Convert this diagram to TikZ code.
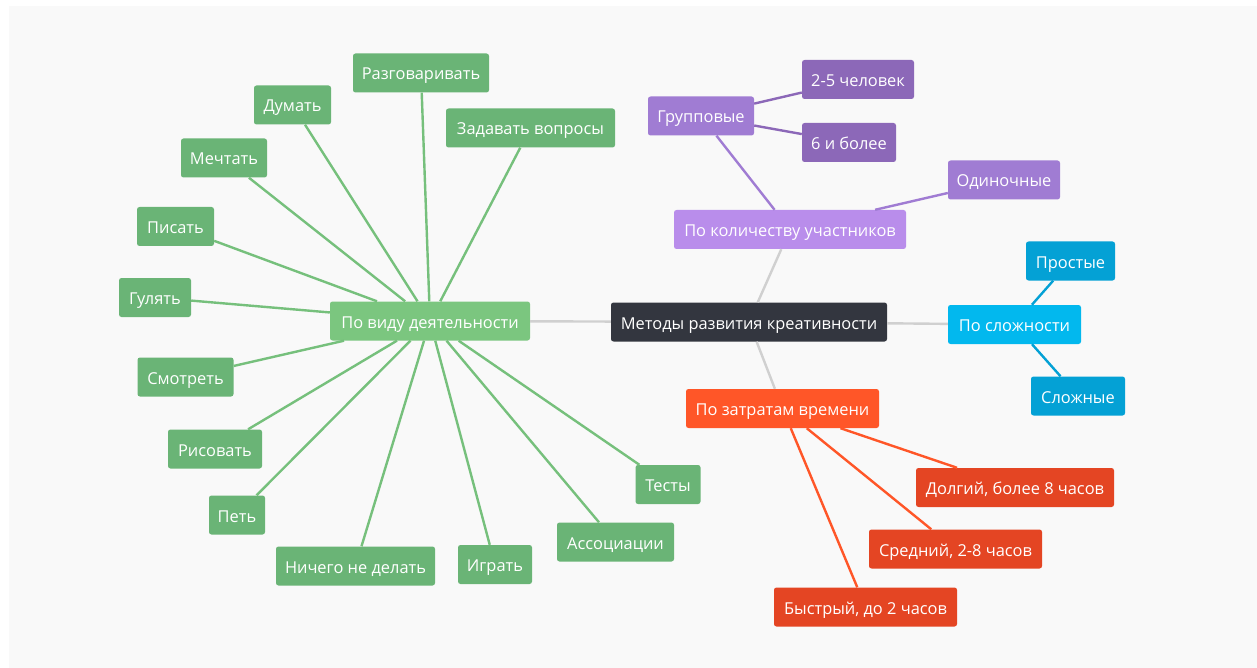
\documentclass[tikz,border=0pt]{standalone}
\usepackage{fontspec}
\setmainfont{Open Sans}
\usetikzlibrary{backgrounds}
\definecolor{bgc}{HTML}{F9F9F9}
\definecolor{dark}{HTML}{33363F}
\definecolor{gparent}{HTML}{7BC67F}
\definecolor{gchild}{HTML}{6AB476}
\definecolor{gline}{HTML}{76C07C}
\definecolor{pparent}{HTML}{B98DEB}
\definecolor{pmid}{HTML}{A07CD3}
\definecolor{pdark}{HTML}{8C68B8}
\definecolor{bparent}{HTML}{02B8EE}
\definecolor{bchild}{HTML}{04A1D5}
\definecolor{oparent}{HTML}{FF5628}
\definecolor{ochild}{HTML}{E44523}
\definecolor{grayline}{HTML}{D0D0D0}
\tikzset{
  box/.style={rectangle, rounded corners=2.5pt, text=white, inner sep=0pt,
    minimum height=39pt, text height=14pt, text depth=0pt,
    font=\fontsize{16.4}{19}\selectfont},
  conn/.style={line width=2.4pt},
}
\begin{document}
\begin{tikzpicture}[x=1pt,y=-1pt]
\useasboundingbox (0,0) rectangle (1257,668);
\fill[bgc] (9,6) rectangle (1257,668);

% centre
\node[box, fill=dark, minimum width=276pt] (root) at (749,322) {Методы развития креативности};

% activity branch
\node[box, fill=gparent, minimum width=200pt] (vid) at (430,321) {По виду деятельности};
\node[box, fill=gchild, minimum width=136pt] (razg) at (421,73) {Разговаривать};
\node[box, fill=gchild, minimum width=77pt] (dum) at (292.5,105) {Думать};
\node[box, fill=gchild, minimum width=169pt] (zad) at (530.5,128) {Задавать вопросы};
\node[box, fill=gchild, minimum width=86pt] (mech) at (224,158) {Мечтать};
\node[box, fill=gchild, minimum width=77pt] (pis) at (175.5,226.5) {Писать};
\node[box, fill=gchild, minimum width=72pt] (gul) at (155,297.5) {Гулять};
\node[box, fill=gchild, minimum width=96pt] (smo) at (185.5,377) {Смотреть};
\node[box, fill=gchild, minimum width=94pt] (ris) at (215,449) {Рисовать};
\node[box, fill=gchild, minimum width=56pt] (pet) at (237,515) {Петь};
\node[box, fill=gchild, minimum width=159pt] (nich) at (355.5,566) {Ничего не делать};
\node[box, fill=gchild, minimum width=74pt] (igr) at (495,564.5) {Играть};
\node[box, fill=gchild, minimum width=117pt] (asso) at (615.5,542) {Ассоциации};
\node[box, fill=gchild, minimum width=65pt] (test) at (668,484.5) {Тесты};

% participants branch
\node[box, fill=pparent, minimum width=232pt] (kol) at (790,229.5) {По количеству участников};
\node[box, fill=pmid, minimum width=106pt] (grup) at (701,116) {Групповые};
\node[box, fill=pdark, minimum width=112pt] (p25) at (858,79.5) {2-5 человек};
\node[box, fill=pdark, minimum width=94pt] (p6) at (849,142.5) {6 и более};
\node[box, fill=pmid, minimum width=112pt] (odin) at (1004,180) {Одиночные};

% complexity branch
\node[box, fill=bparent, minimum width=133pt] (slo) at (1014.5,324.5) {По сложности};
\node[box, fill=bchild, minimum width=89pt] (pros) at (1070.5,261) {Простые};
\node[box, fill=bchild, minimum width=94pt] (slozh) at (1078,396) {Сложные};

% time branch
\node[box, fill=oparent, minimum width=193pt] (vrem) at (782.5,408.5) {По затратам времени};
\node[box, fill=ochild, minimum width=198pt] (dolg) at (1015,487.5) {Долгий, более 8 часов};
\node[box, fill=ochild, minimum width=173pt] (sred) at (955.5,549) {Средний, 2-8 часов};
\node[box, fill=ochild, minimum width=183pt] (bys) at (865.5,607) {Быстрый, до 2 часов};

\begin{scope}[conn]
\draw[grayline] (root) -- (vid);
\draw[grayline] (root) -- (kol);
\draw[grayline] (root) -- (slo);
\draw[grayline] (root) -- (vrem);
\foreach \c in {razg,dum,zad,mech,pis,gul,smo,ris,pet,nich,igr,asso,test}
  \draw[gline] (vid) -- (\c);
\draw[pmid] (kol) -- (grup);
\draw[pmid] (kol) -- (odin);
\draw[pdark] (grup) -- (p25);
\draw[pdark] (grup) -- (p6);
\draw[bchild] (slo) -- (pros);
\draw[bchild] (slo) -- (slozh);
\draw[oparent] (vrem) -- (dolg);
\draw[oparent] (vrem) -- (sred);
\draw[oparent] (vrem) -- (bys);
\end{scope}
\end{tikzpicture}
\end{document}
